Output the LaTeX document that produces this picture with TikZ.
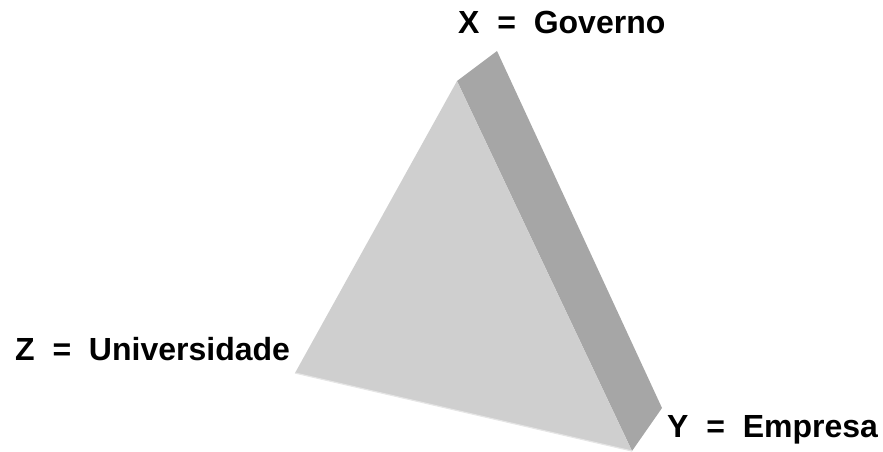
\documentclass[tikz,border=0pt]{standalone}
\usepackage{fontspec}
\setmainfont{Liberation Sans}
\tikzset{
  lbl/.style={anchor=base west,inner sep=0pt,font=\fontsize{32}{36}\selectfont\bfseries,text=black},
  front/.style={fill=frontgray,draw=none},
  side/.style={fill=sidegray,draw=none}
}
\definecolor{frontgray}{gray}{0.81}
\definecolor{sidegray}{gray}{0.65}
\definecolor{edgegray}{gray}{0.9}
\begin{document}
\begin{tikzpicture}[x=1pt,y=-1pt]
\useasboundingbox (0,0) rectangle (883,451);
\coordinate (tf) at (457,81);
\coordinate (tb) at (497,51);
\coordinate (rb) at (662,408);
\coordinate (bf) at (632,451);
\coordinate (lf) at (295,373);
\fill[side] (tf) -- (tb) -- (rb) -- (bf) -- cycle;
\fill[front] (tf) -- (bf) -- (lf) -- cycle;
\draw[edgegray,line width=1.2pt] (lf) -- (bf);
\node[lbl] (x) at (458,33.5) {X\ \ =\ \ Governo};
\node[lbl] (y) at (667,437) {Y\ \ =\ \ Empresa};
\node[lbl] (z) at (15,360) {Z\ \ =\ \ Universidade};
\end{tikzpicture}
\end{document}
